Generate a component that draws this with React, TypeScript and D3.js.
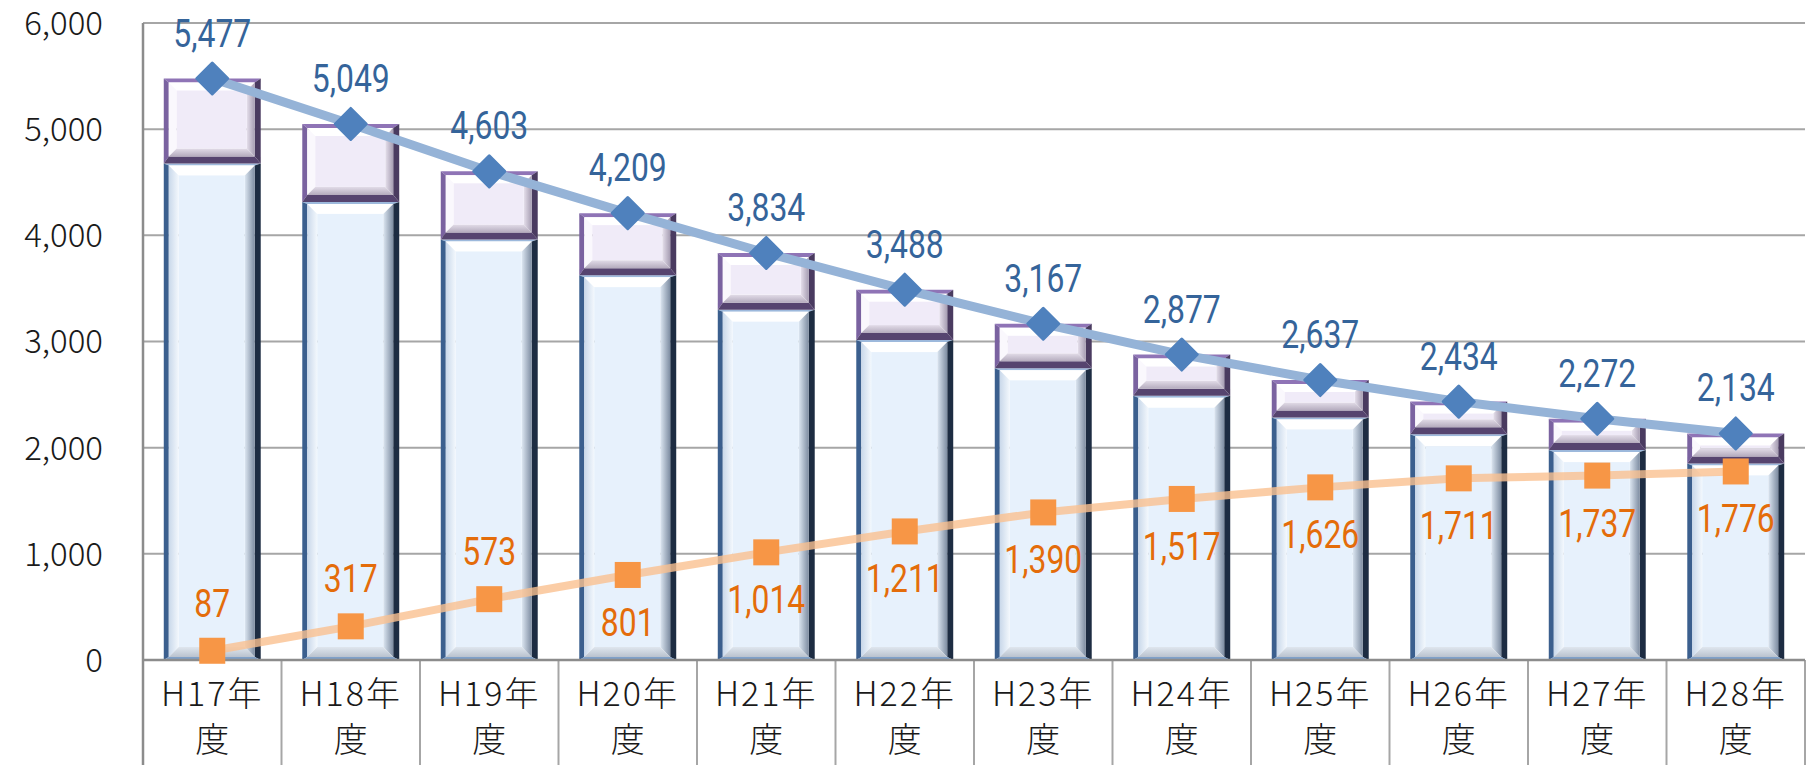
import React, { useEffect, useRef } from "react";
import * as d3 from "d3";

// 年度
const categories = [
  "H17年度", "H18年度", "H19年度", "H20年度", "H21年度", "H22年度",
  "H23年度", "H24年度", "H25年度", "H26年度", "H27年度", "H28年度",
];
// 棒グラフ（下段・上段）
const lowerPart = [4677, 4315, 3961, 3625, 3300, 3013, 2747, 2489, 2285, 2127, 1977, 1852];
const upperPart = [800, 734, 642, 584, 534, 475, 420, 388, 352, 307, 295, 282];
// 折れ線
const totalLine = [5477, 5049, 4603, 4209, 3834, 3488, 3167, 2877, 2637, 2434, 2272, 2134];
const orangeLine = [87, 317, 573, 801, 1014, 1211, 1390, 1517, 1626, 1711, 1737, 1776];
const yTicks = [0, 1000, 2000, 3000, 4000, 5000, 6000];

const width = 1810;
const height = 765;
const plot = { left: 143, right: 1805, top: 23, bottom: 660 };

const fmt = d3.format(",");
const labelFont = "Roboto, 'Noto Sans', sans-serif";
const axisFont = "'Noto Sans CJK JP', 'Noto Sans', sans-serif";

const bluePal = {
  bt: 2, bl: 5, br: 6, bb: 3,
  cTop: "#9db9dc", cLeft: "#3b5f8e", cRight: "#1d2c42", cBottom: "#7fa0c8",
  bev: 10, vTop: "#ffffff", vLeft: "url(#blueLeft)", vRight: "url(#blueShade)", vBottom: "url(#blueBottom)",
  face: "#e7f1fc",
};
const purplePal = {
  bt: 4, bl: 5, br: 6, bb: 7,
  cTop: "#8f74b6", cLeft: "#7a62a0", cRight: "#4a3b60", cBottom: "#56446f",
  bev: 8, vTop: "#ffffff", vLeft: "#faf8fd", vRight: "url(#purpleShade)", vBottom: "url(#purpleBottom)",
  face: "#f0ebf8",
};

function bevelRect(g, x, y, w, h, p) {
  const pts = (a) => a.map((d) => d.join(",")).join(" ");
  const x2 = x + w, y2 = y + h;
  // outer border
  g.append("polygon").attr("points", pts([[x, y], [x2, y], [x2 - p.br, y + p.bt], [x + p.bl, y + p.bt]])).attr("fill", p.cTop);
  g.append("polygon").attr("points", pts([[x, y], [x + p.bl, y + p.bt], [x + p.bl, y2 - p.bb], [x, y2]])).attr("fill", p.cLeft);
  g.append("polygon").attr("points", pts([[x2, y], [x2, y2], [x2 - p.br, y2 - p.bb], [x2 - p.br, y + p.bt]])).attr("fill", p.cRight);
  g.append("polygon").attr("points", pts([[x, y2], [x + p.bl, y2 - p.bb], [x2 - p.br, y2 - p.bb], [x2, y2]])).attr("fill", p.cBottom);
  // inner bevel
  const ix = x + p.bl, iy = y + p.bt, ix2 = x2 - p.br, iy2 = y2 - p.bb;
  const b = Math.min(p.bev, (iy2 - iy) / 2 - 1);
  g.append("polygon").attr("points", pts([[ix, iy], [ix2, iy], [ix2 - b, iy + b], [ix + b, iy + b]])).attr("fill", p.vTop);
  g.append("polygon").attr("points", pts([[ix, iy], [ix + b, iy + b], [ix + b, iy2 - b], [ix, iy2]])).attr("fill", p.vLeft);
  g.append("polygon").attr("points", pts([[ix2, iy], [ix2, iy2], [ix2 - b, iy2 - b], [ix2 - b, iy + b]])).attr("fill", p.vRight);
  g.append("polygon").attr("points", pts([[ix, iy2], [ix + b, iy2 - b], [ix2 - b, iy2 - b], [ix2, iy2]])).attr("fill", p.vBottom);
  g.append("rect").attr("x", ix + b).attr("y", iy + b).attr("width", Math.max(0, ix2 - ix - 2 * b)).attr("height", Math.max(0, iy2 - iy - 2 * b)).attr("fill", p.face);
}

const App = () => {
  const svgRef = useRef(null);

  useEffect(() => {
    const svg = d3.select(svgRef.current);
    svg.selectAll("*").remove();

    const defs = svg.append("defs");
    const shade = (id, from, to, vertical = false) => {
      const lg = defs.append("linearGradient").attr("id", id)
        .attr("x1", 0).attr("y1", 0).attr("x2", vertical ? 0 : 1).attr("y2", vertical ? 1 : 0);
      lg.append("stop").attr("offset", 0).attr("stop-color", from);
      lg.append("stop").attr("offset", 1).attr("stop-color", to);
    };
    shade("blueShade", "#dde7f2", "#7d8ca1");
    shade("blueLeft", "#c9d8ea", "#f3f8fd");
    shade("blueBottom", "#dfe6ee", "#b9c2ce", true);
    shade("purpleShade", "#e6e0ec", "#a69db2");
    shade("purpleBottom", "#e2dce8", "#b4abbd", true);

    const x = d3.scaleBand().domain(categories).range([plot.left, plot.right]).paddingInner(0.3).paddingOuter(0.15);
    const y = d3.scaleLinear().domain([0, 6000]).range([plot.bottom, plot.top]);
    const cx = (i) => x(categories[i]) + x.bandwidth() / 2;

    // gridlines
    svg.append("g")
      .selectAll("line")
      .data(yTicks.slice(1))
      .join("line")
      .attr("x1", plot.left).attr("x2", plot.right)
      .attr("y1", (d) => y(d)).attr("y2", (d) => y(d))
      .attr("stroke", "#a6a6a6").attr("stroke-width", 2);

    // y labels
    svg.append("g")
      .selectAll("text")
      .data(yTicks)
      .join("text")
      .attr("x", 103).attr("y", (d) => y(d))
      .attr("dy", "0.36em")
      .attr("text-anchor", "end")
      .attr("font-family", axisFont).attr("font-weight", 300)
      .attr("font-size", 33).attr("fill", "#1a1a1a")
      .text((d) => fmt(d));

    // bars
    const bars = svg.append("g");
    categories.forEach((c, i) => {
      const bx = x(c);
      const bw = x.bandwidth();
      const g = bars.append("g");
      bevelRect(g, bx, y(lowerPart[i]), bw, y(0) - y(lowerPart[i]), bluePal);
      const top = lowerPart[i] + upperPart[i];
      bevelRect(g, bx, y(top), bw, y(lowerPart[i]) - y(top), purplePal);
    });

    // axes and category separators
    const stepW = x.step();
    const seps = d3.range(categories.length + 1).map((k) => plot.left + k * stepW);
    svg.append("g")
      .selectAll("line")
      .data(seps)
      .join("line")
      .attr("x1", (d) => d).attr("x2", (d) => d)
      .attr("y1", plot.bottom).attr("y2", height)
      .attr("stroke", "#a6a6a6").attr("stroke-width", 2);
    svg.append("line")
      .attr("x1", plot.left).attr("x2", plot.left)
      .attr("y1", plot.top).attr("y2", height)
      .attr("stroke", "#8c8c8c").attr("stroke-width", 2.5);
    svg.append("line")
      .attr("x1", plot.left).attr("x2", plot.right)
      .attr("y1", plot.bottom).attr("y2", plot.bottom)
      .attr("stroke", "#8c8c8c").attr("stroke-width", 2.5);

    // category labels
    const xl = svg.append("g")
      .attr("font-family", axisFont).attr("font-weight", 300)
      .attr("font-size", 34).attr("fill", "#1a1a1a").attr("text-anchor", "middle");
    categories.forEach((c, i) => {
      xl.append("text").attr("x", cx(i)).attr("y", 706).attr("letter-spacing", 2).text(c.slice(0, -1));
      xl.append("text").attr("x", cx(i)).attr("y", 752).text(c.slice(-1));
    });

    // lines
    const lineGen = (vals) => d3.line().x((d, i) => cx(i)).y((d) => y(d))(vals);
    svg.append("path")
      .attr("d", lineGen(orangeLine))
      .attr("fill", "none").attr("stroke", "#fac090").attr("stroke-width", 8)
      .attr("stroke-opacity", 0.8).attr("stroke-linejoin", "round");
    svg.append("path")
      .attr("d", lineGen(totalLine))
      .attr("fill", "none").attr("stroke", "#95b3d7").attr("stroke-width", 9)
      .attr("stroke-linejoin", "round").attr("stroke-linecap", "round");

    // markers
    svg.append("g")
      .selectAll("rect")
      .data(orangeLine)
      .join("rect")
      .attr("x", (d, i) => cx(i) - 13).attr("y", (d) => y(d) - 13)
      .attr("width", 26).attr("height", 26)
      .attr("fill", "#f79646");
    svg.append("g")
      .selectAll("path")
      .data(totalLine)
      .join("path")
      .attr("d", "M0,-15.5L15.5,0L0,15.5L-15.5,0Z")
      .attr("transform", (d, i) => `translate(${cx(i)},${y(d)})`)
      .attr("fill", "#4f81bd").attr("stroke", "#4f81bd")
      .attr("stroke-width", 3).attr("stroke-linejoin", "round");

    // data labels (condensed)
    const squeeze = 0.84;
    svg.append("g")
      .selectAll("text")
      .data(totalLine)
      .join("text")
      .attr("transform", (d, i) => `translate(${cx(i)},${y(d) - 32}) scale(${squeeze},1)`)
      .attr("text-anchor", "middle")
      .attr("font-family", labelFont).attr("font-size", 38)
      .attr("fill", "#35649a")
      .text((d) => fmt(d));
    svg.append("g")
      .selectAll("text")
      .data(orangeLine)
      .join("text")
      .attr("transform", (d, i) => `translate(${cx(i)},${i < 3 ? y(d) - 34 : y(d) + 61}) scale(${squeeze},1)`)
      .attr("text-anchor", "middle")
      .attr("font-family", labelFont).attr("font-size", 38)
      .attr("fill", "#e46c0a")
      .text((d) => fmt(d));
  }, []);

  return (
    <svg
      ref={svgRef}
      width={width}
      height={height}
      style={{ position: "absolute", left: 0, top: 0, background: "#fff" }}
    />
  );
};

export default App;
